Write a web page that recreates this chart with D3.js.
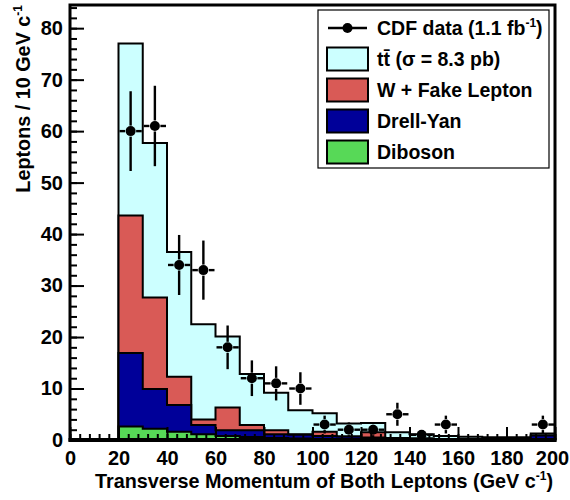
<!DOCTYPE html>
<html>
<head>
<meta charset="utf-8">
<title>Lepton pT</title>
<style>
body { margin: 0; background: #fff; }
text { font-family: "Liberation Sans", Arial, sans-serif; font-weight: bold; fill: #000; }
</style>
</head>
<body>
<div id="svghere"></div>
<script src="https://d3js.org/d3.v7.min.js"></script>
<script>
// bins are 10 GeV wide, lower edges
var binLow = [20, 30, 40, 50, 60, 70, 80, 90, 100, 110, 120, 130, 140, 150, 160, 170, 180, 190];
var binWidth = 10;

// expected contributions per bin (not stacked)
var diboson  = [2.6, 2.2, 1.6, 1.1, 0.8, 0.6, 0.4, 0.3, 0.2, 0.2, 0.2, 0.1, 0.1, 0.1, 0.05, 0.05, 0.05, 0.05];
var drellYan = [14.3, 7.7, 5.2, 1.8, 1.1, 1.3, 0.7, 0.7, 0.6, 0.5, 0.3, 0.3, 0.2, 0.1, 0.1, 0.1, 0.1, 0.8];
var fakeLep  = [26.7, 17.8, 5.5, 1.1, 4.4, 1.0, 0.8, 0.1, 0.8, 0.0, 1.0, 0, 0, 0, 0, 0, 0, 0];
var ttbar    = [33.4, 30.0, 24.2, 18.5, 13.8, 9.9, 7.3, 4.7, 3.6, 2.5, 1.8, 1.1, 0.8, 0.6, 0.5, 0.4, 0.4, 0.4];

// CDF data counts
var dataCounts = [60, 61, 34, 33, 18, 12, 11, 10, 3, 2, 2, 5, 1, 3, 0, 0, 0, 3];

var xTicks = [0, 20, 40, 60, 80, 100, 120, 140, 160, 180, 200];
var yTicks = [0, 10, 20, 30, 40, 50, 60, 70, 80];

var keys = ['diboson', 'drellYan', 'fakeLep', 'ttbar'];
var colors = {ttbar: '#ccffff', fakeLep: '#d95a56', drellYan: '#000099', diboson: '#57d957'};

var svg = d3.select("#svghere")
    .append('svg')
    .attr('width', 570)
    .attr('height', 500);

var x = d3.scaleLinear().domain([0, 200]).range([70, 555]);
var y = d3.scaleLinear().domain([0, 84.5]).range([440, 5]);

var rows = binLow.map(function(lo, i) {
    return {lo: lo, diboson: diboson[i], drellYan: drellYan[i], fakeLep: fakeLep[i], ttbar: ttbar[i]};
});
var stacked = d3.stack().keys(keys)(rows);

var area = d3.area()
    .x(function(d) { return x(d[0]); })
    .y0(y(0))
    .y1(function(d) { return y(d[1]); });

// draw the largest cumulative first, like a root stack
stacked.slice().reverse().forEach(function(layer) {
    var pts = [];
    layer.forEach(function(d) {
        pts.push([d.data.lo, d[1]]);
        pts.push([d.data.lo + binWidth, d[1]]);
    });
    svg.append('path')
        .attr('d', area(pts) + 'Z')
        .attr('fill', colors[layer.key])
        .attr('stroke', '#000')
        .attr('stroke-width', 2)
        .attr('stroke-linejoin', 'miter');
});

// data points with sqrt(N) errors
var gap = 5.5;
var pts = svg.append('g');
binLow.forEach(function(lo, i) {
    var n = dataCounts[i];
    if (n <= 0) return;
    var cx = x(lo + binWidth / 2), cy = y(n);
    var e = Math.sqrt(n);
    var yTop = y(n + e), yBot = y(n - e);
    if (cy - yTop > gap) {
        pts.append('line').attr('x1', cx).attr('x2', cx).attr('y1', yTop).attr('y2', cy - gap);
        pts.append('line').attr('x1', cx).attr('x2', cx).attr('y1', cy + gap).attr('y2', yBot);
    }
    pts.append('line').attr('x1', x(lo) + 1).attr('x2', cx - gap).attr('y1', cy).attr('y2', cy);
    pts.append('line').attr('x1', cx + gap).attr('x2', x(lo + binWidth) - 1).attr('y1', cy).attr('y2', cy);
    pts.append('circle').attr('cx', cx).attr('cy', cy).attr('r', 5).attr('fill', '#000');
});
pts.selectAll('line').attr('stroke', '#000').attr('stroke-width', 2.4);

// axes
svg.append('g')
    .attr('transform', 'translate(70,0)')
    .call(d3.axisLeft(y).tickValues(yTicks).tickSize(-14).tickPadding(7).tickFormat(d3.format('d')));
svg.append('g')
    .attr('transform', 'translate(70,0)')
    .call(d3.axisLeft(y).tickValues(d3.range(0, 84.5, 2)).tickSize(-7).tickFormat(''));
var xAxis = svg.append('g')
    .attr('transform', 'translate(0,440)')
    .call(d3.axisBottom(x).tickValues(xTicks).tickSize(-13).tickPadding(11).tickFormat(d3.format('d')));
svg.append('g')
    .attr('transform', 'translate(0,440)')
    .call(d3.axisBottom(x).tickValues(d3.range(0, 201, 4)).tickSize(-6).tickFormat(''));

svg.selectAll('.domain').remove();
svg.selectAll('.tick line').attr('stroke', '#000').attr('stroke-width', 2);
svg.selectAll('.tick text')
    .style('font-size', '20px')
    .style('font-family', '"Liberation Sans", Arial, sans-serif')
    .style('font-weight', 'bold');
// keep the last label inside the page
xAxis.selectAll('.tick text').filter(function(d) { return d === 200; }).attr('dx', -3);

// frame
svg.append('rect')
    .attr('x', 70).attr('y', 5).attr('width', 485).attr('height', 435)
    .attr('fill', 'none').attr('stroke', '#000').attr('stroke-width', 3);
svg.append('line')
    .attr('x1', 68.5).attr('x2', 556.5).attr('y1', 440).attr('y2', 440)
    .attr('stroke', '#000').attr('stroke-width', 4);

// axis titles
var xt = svg.append('text')
    .attr('x', 553).attr('y', 488)
    .attr('text-anchor', 'end')
    .style('font-size', '19.8px')
    .text('Transverse Momentum of Both Leptons (GeV c');
xt.append('tspan').attr('dy', -8).style('font-size', '12px').text('-1');
xt.append('tspan').attr('dy', 8).text(')');

var yt = svg.append('text')
    .attr('transform', 'translate(29.5,5) rotate(-90)')
    .attr('text-anchor', 'end')
    .style('font-size', '19.8px')
    .text('Leptons / 10 GeV c');
yt.append('tspan').attr('dy', -8).style('font-size', '12px').text('-1');

// legend
var leg = svg.append('g');
leg.append('rect')
    .attr('x', 318).attr('y', 10).attr('width', 231).attr('height', 158)
    .attr('fill', '#fff').attr('stroke', '#000').attr('stroke-width', 1.2);

var legRows = [
    {key: 'data', label: 'CDF data (1.1 fb', sup: '-1', tail: ')'},
    {key: 'ttbar', label: 'tt\u0304 (\u03c3 = 8.3 pb)'},
    {key: 'fakeLep', label: 'W + Fake Lepton'},
    {key: 'drellYan', label: 'Drell-Yan'},
    {key: 'diboson', label: 'Diboson'}
];
legRows.forEach(function(r, i) {
    var cy = 28 + i * 31;
    if (r.key === 'data') {
        leg.append('line').attr('x1', 328).attr('x2', 367).attr('y1', cy).attr('y2', cy)
            .attr('stroke', '#000').attr('stroke-width', 2.4);
        leg.append('circle').attr('cx', 347.5).attr('cy', cy).attr('r', 5).attr('fill', '#000');
    } else {
        leg.append('rect').attr('x', 327).attr('y', cy - 11.5).attr('width', 41).attr('height', 23)
            .attr('fill', colors[r.key]).attr('stroke', '#000').attr('stroke-width', 2);
    }
    var t = leg.append('text').attr('x', 377).attr('y', cy + 7).style('font-size', '19.5px').text(r.label);
    if (r.sup) {
        t.append('tspan').attr('dy', -8).style('font-size', '12px').text(r.sup);
        t.append('tspan').attr('dy', 8).text(r.tail);
    }
});
</script>
</body>
</html>
